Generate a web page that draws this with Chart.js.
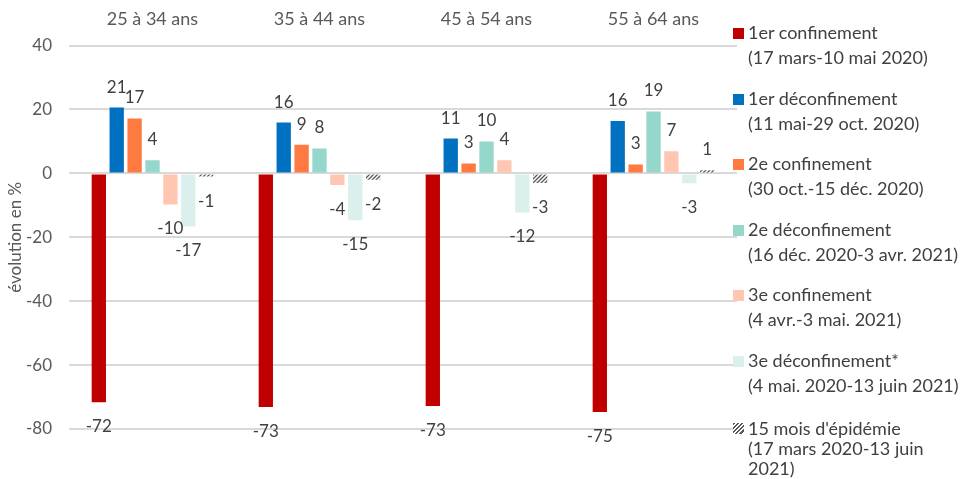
<!DOCTYPE html>
<html lang="fr">
<head>
<meta charset="utf-8">
<script src="https://cdn.jsdelivr.net/npm/chart.js@4.4.0/dist/chart.umd.min.js"></script>
<style>
    html, body { margin: 0; padding: 0; background: #fff; }
    #wrap { position: relative; width: 961px; height: 479px; }
    #legend { position: absolute; left: 733px; top: 20px; font-family: Lato, sans-serif; font-size: 18px; color: #404040; line-height: 25px; white-space: nowrap; }
    .item { position: relative; padding-left: 15px; height: 65.6px; box-sizing: border-box; }
    .item.last { line-height: 20px; padding-top: 4px; }
    .box { position: absolute; left: 0; top: 8px; width: 11px; height: 11px; }
    .item.last .box { top: 9px; }
</style>
</head>
<body>
<div id="wrap">
    <canvas id="chart" width="961" height="479"></canvas>
    <div id="legend"></div>
</div>
<script>
const categories = ['25 à 34 ans', '35 à 44 ans', '45 à 54 ans', '55 à 64 ans'];
const periods = [
    ['1er confinement', '(17 mars-10 mai 2020)'],
    ['1er déconfinement', '(11 mai-29 oct. 2020)'],
    ['2e confinement', '(30 oct.-15 déc. 2020)'],
    ['2e déconfinement', '(16 déc. 2020-3 avr. 2021)'],
    ['3e confinement', '(4 avr.-3 mai. 2021)'],
    ['3e déconfinement*', '(4 mai. 2020-13 juin 2021)'],
    ['15 mois d\'épidémie', '(17 mars 2020-13 juin', '2021)']
];
const conf1 = [-71.6, -73.1, -72.8, -74.7];
const deconf1 = [20.6, 15.9, 10.9, 16.4];
const conf2 = [17.2, 9.0, 3.1, 2.8];
const deconf2 = [4.1, 7.8, 10.0, 19.4];
const conf3 = [-9.7, -3.6, 4.1, 6.9];
const deconf3 = [-16.6, -14.7, -12.2, -3.1];
const total15 = [-1.0, -2.0, -3.0, 1.0];
const yTicks = [-80, -60, -40, -20, 0, 20, 40];

const seriesValues = [conf1, deconf1, conf2, deconf2, conf3, deconf3, total15];

function makeHatch() {
    const c = document.createElement('canvas');
    c.width = 4;
    c.height = 4;
    const g = c.getContext('2d');
    g.fillStyle = '#ffffff';
    g.fillRect(0, 0, 4, 4);
    g.strokeStyle = '#595959';
    g.lineWidth = 1.3;
    g.beginPath();
    g.moveTo(0, 4); g.lineTo(4, 0);
    g.moveTo(-1, 1); g.lineTo(1, -1);
    g.moveTo(3, 5); g.lineTo(5, 3);
    g.stroke();
    return g.createPattern(c, 'repeat');
}

const ctx = document.getElementById('chart').getContext('2d');
const hatch = makeHatch();
const colors = ['#C00000', '#0070C0', '#FF7A40', '#96D7CC', '#FFC6B1', '#DBEFEC', hatch];

// legend in HTML so the multi-line labels stay as text
const legend = document.getElementById('legend');
periods.forEach((lines, i) => {
    const item = document.createElement('div');
    item.className = i === periods.length - 1 ? 'item last' : 'item';
    const box = document.createElement('div');
    box.className = 'box';
    if (i === 6) {
        box.style.background = 'repeating-linear-gradient(135deg, #595959 0 1.5px, #fff 1.5px 3px)';
    } else {
        box.style.background = colors[i];
    }
    item.appendChild(box);
    lines.forEach((line, k) => {
        if (k > 0) item.appendChild(document.createElement('br'));
        item.appendChild(document.createTextNode(line));
    });
    legend.appendChild(item);
});

const valueLabels = {
    id: 'valueLabels',
    afterDatasetsDraw(chart) {
        const c = chart.ctx;
        c.save();
        c.font = '17px Lato, sans-serif';
        c.fillStyle = '#404040';
        c.textAlign = 'center';
        chart.data.datasets.forEach((ds, i) => {
            const meta = chart.getDatasetMeta(i);
            meta.data.forEach((bar, j) => {
                const v = ds.data[j];
                const txt = String(Math.round(v));
                if (v >= 0) {
                    c.textBaseline = 'bottom';
                    c.fillText(txt, bar.x, bar.y - 12);
                } else {
                    c.textBaseline = 'top';
                    c.fillText(txt, bar.x, bar.y + 16);
                }
            });
        });
        c.restore();
    }
};

new Chart(ctx, {
    type: 'bar',
    data: {
        labels: categories,
        datasets: seriesValues.map((vals, i) => ({
            label: periods[i].join(' '),
            data: vals,
            backgroundColor: colors[i],
            borderWidth: 0,
            categoryPercentage: 0.75,
            barPercentage: 0.8
        }))
    },
    options: {
        responsive: false,
        animation: false,
        layout: { padding: { left: 0, right: 224, top: 0, bottom: 50 } },
        plugins: {
            legend: { display: false },
            tooltip: { enabled: false }
        },
        scales: {
            x: {
                position: 'top',
                grid: { display: false },
                border: { display: false },
                ticks: {
                    color: '#595959',
                    font: { family: 'Lato', size: 18 },
                    padding: 8
                }
            },
            y: {
                min: -80,
                max: 40,
                afterBuildTicks(axis) {
                    axis.ticks = yTicks.map(v => ({ value: v }));
                },
                afterFit(axis) {
                    axis.width = 69;
                },
                grid: { color: '#d9d9d9', lineWidth: 2, drawTicks: false },
                border: { display: false },
                ticks: {
                    color: '#595959',
                    font: { family: 'Lato', size: 17 },
                    padding: 17
                },
                title: {
                    display: true,
                    text: 'évolution en %',
                    color: '#595959',
                    font: { family: 'Lato', size: 17 },
                    padding: { top: 5, bottom: 0 }
                }
            }
        }
    },
    plugins: [valueLabels]
});
</script>
</body>
</html>
